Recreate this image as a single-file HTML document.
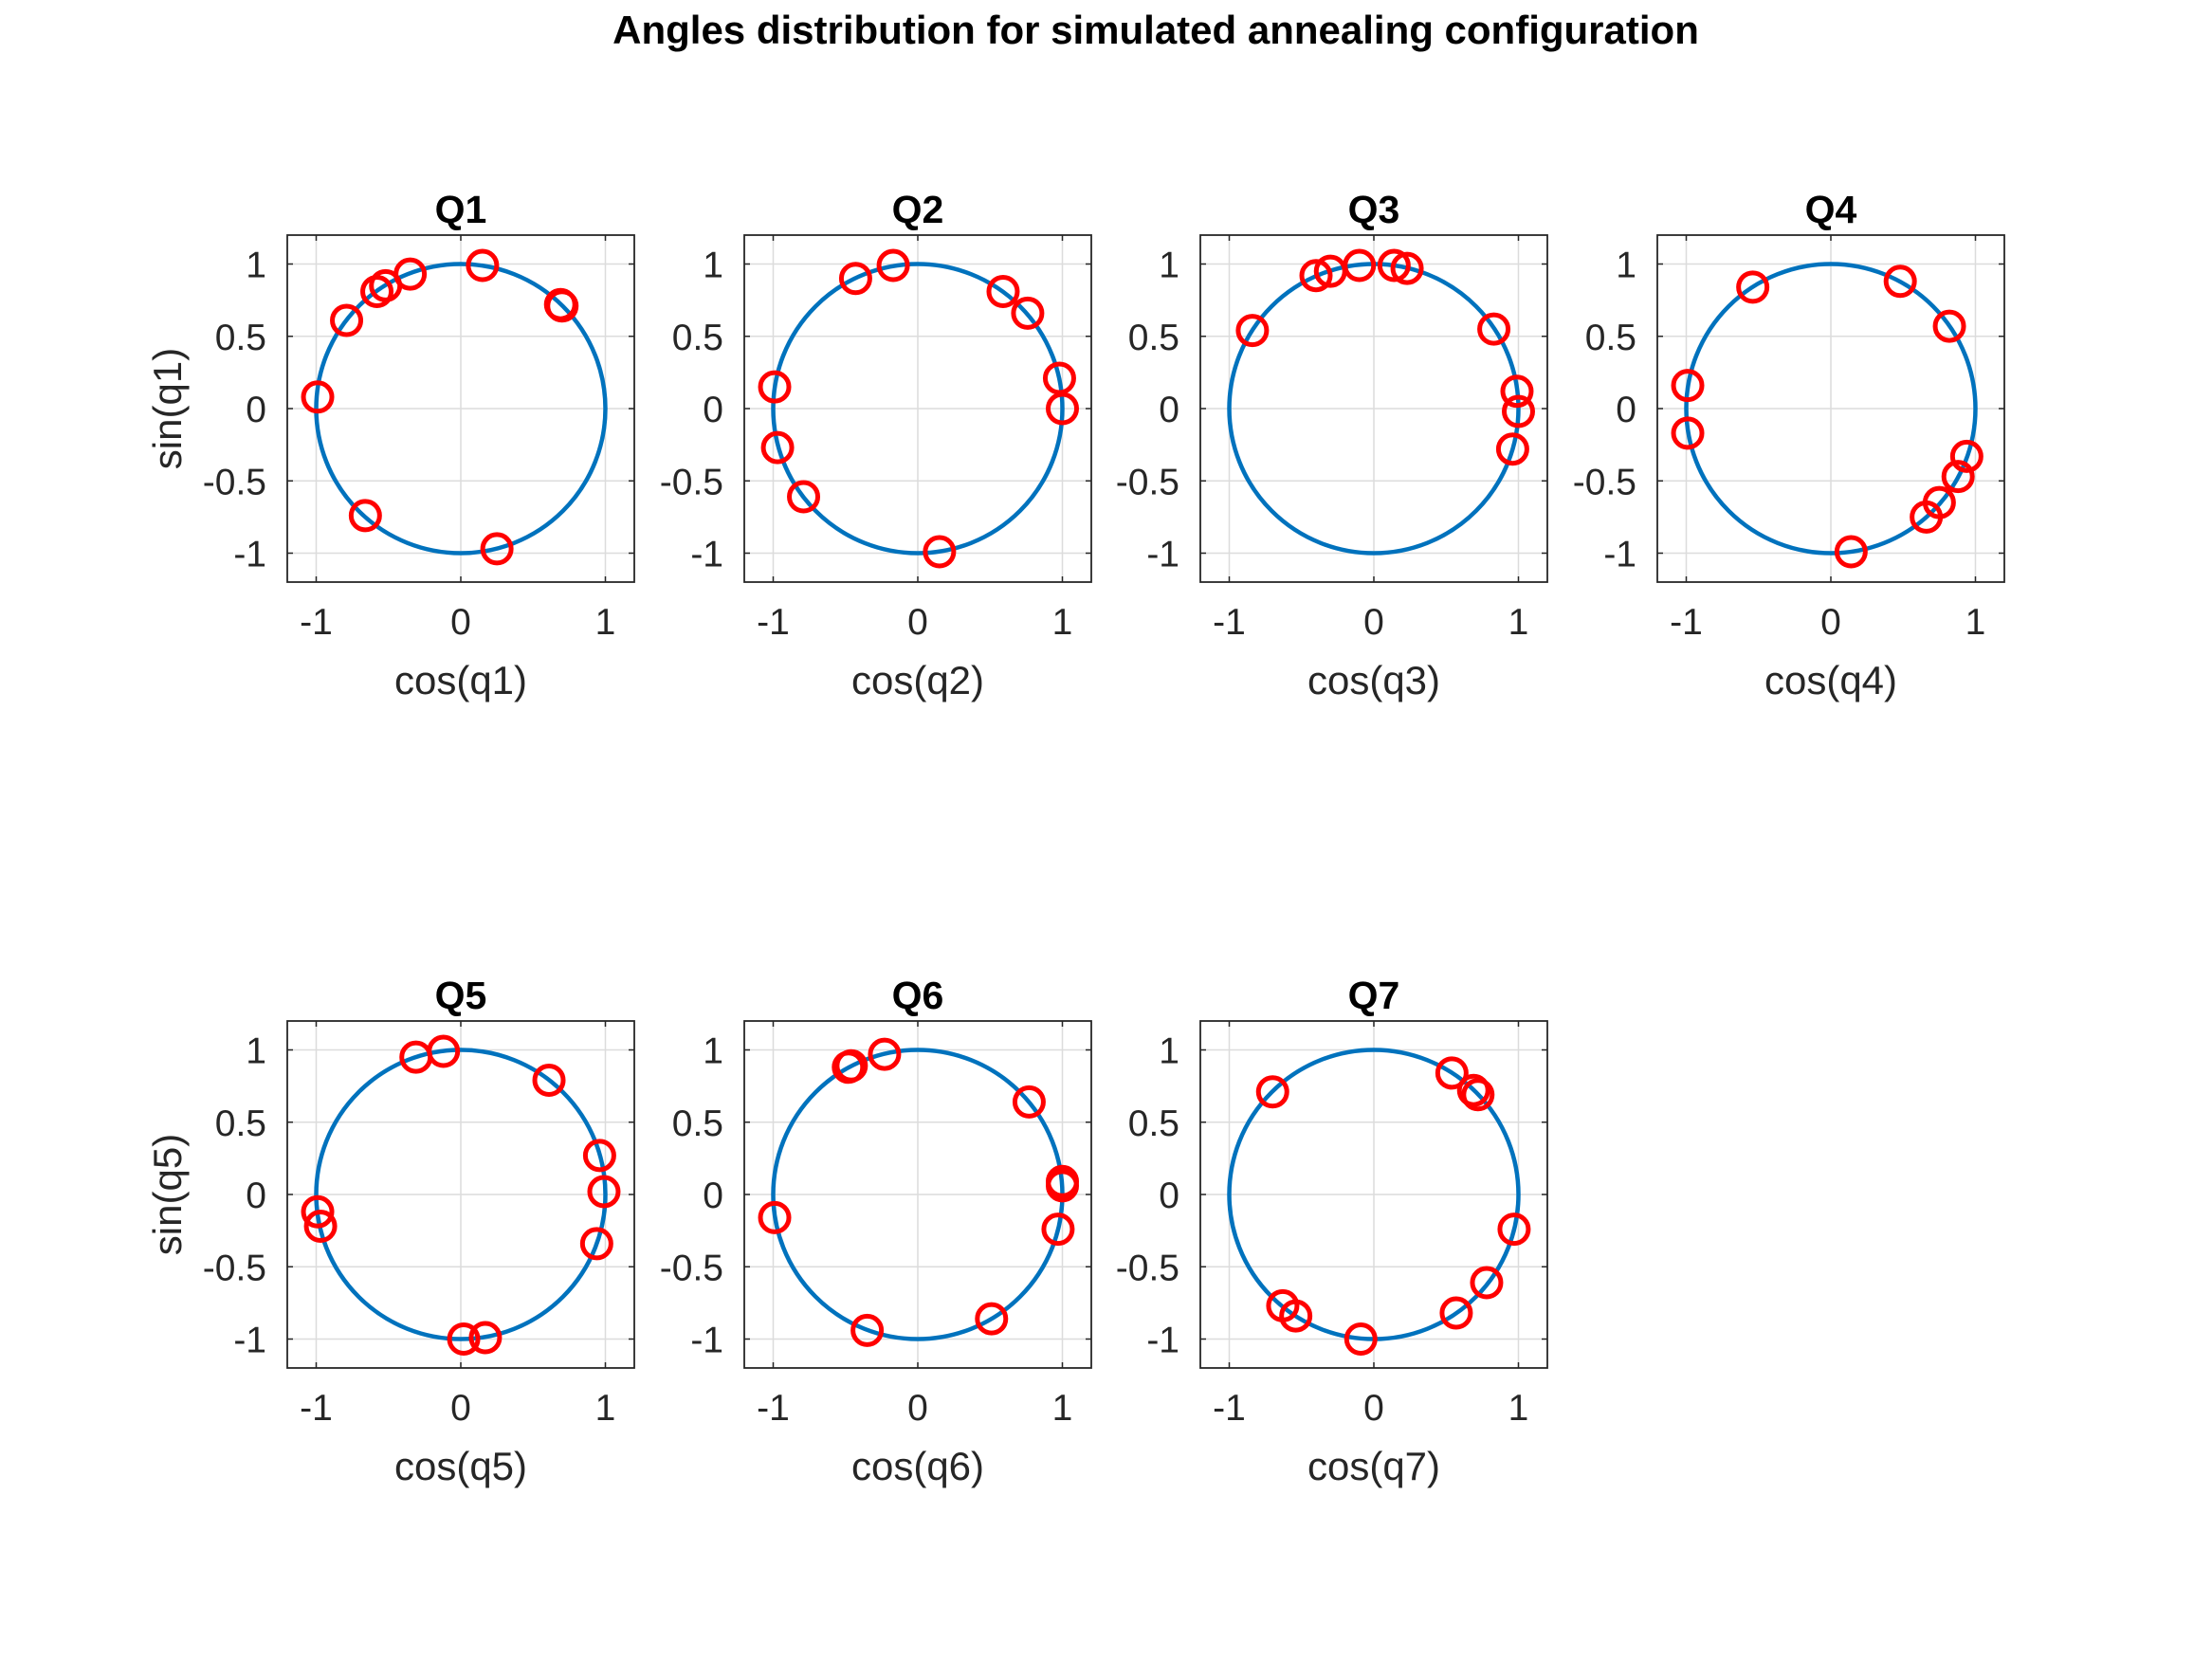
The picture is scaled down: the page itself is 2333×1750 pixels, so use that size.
<!DOCTYPE html>
<html><head><meta charset="utf-8"><style>
html,body{margin:0;padding:0;background:#fff;}
svg{display:block;font-family:"Liberation Sans",Arial,sans-serif;}
</style></head><body>
<svg id="fig" width="2333" height="1750" viewBox="0 0 2333 1750" xmlns="http://www.w3.org/2000/svg">
<rect width="2333" height="1750" fill="#fff"/>
<text x="1219" y="46" font-size="42" font-weight="bold" text-anchor="middle" fill="#000">Angles distribution for simulated annealing configuration</text>
</svg>
<script>
const panelNames = ["Q1","Q2","Q3","Q4","Q5","Q6","Q7"];
const tickValsX = [-1,0,1];
const tickLabelsX = ["-1","0","1"];
const tickValsY = [-1,-0.5,0,0.5,1];
const tickLabelsY = ["-1","-0.5","0","0.5","1"];
const q1Cos = [0.15,0.69,0.70,-0.35,-0.52,-0.58,-0.79,-0.99,-0.66,0.25];
const q1Sin = [0.99,0.72,0.71,0.93,0.85,0.81,0.61,0.08,-0.74,-0.97];
const q2Cos = [-0.17,-0.43,0.59,0.76,0.98,1.0,-0.99,-0.97,-0.79,0.15];
const q2Sin = [0.99,0.90,0.81,0.66,0.21,0.0,0.15,-0.27,-0.61,-0.99];
const q3Cos = [-0.84,-0.40,-0.30,-0.10,0.14,0.23,0.83,0.99,1.0,0.96];
const q3Sin = [0.54,0.92,0.95,0.99,0.99,0.97,0.55,0.12,-0.02,-0.28];
const q4Cos = [-0.54,0.48,0.82,-0.99,-0.99,0.94,0.88,0.75,0.66,0.14];
const q4Sin = [0.84,0.88,0.57,0.16,-0.17,-0.33,-0.47,-0.65,-0.75,-0.99];
const q5Cos = [-0.31,-0.12,0.61,0.96,0.99,0.94,-0.99,-0.97,0.02,0.17];
const q5Sin = [0.95,0.99,0.79,0.27,0.02,-0.34,-0.12,-0.22,-1.0,-0.99];
const q6Cos = [-0.48,-0.46,-0.23,0.77,1.0,1.0,0.97,0.51,-0.35,-0.99];
const q6Sin = [0.88,0.89,0.97,0.64,0.09,0.06,-0.24,-0.86,-0.94,-0.16];
const q7Cos = [-0.70,0.54,0.69,0.72,0.97,0.78,0.57,-0.09,-0.63,-0.54];
const q7Sin = [0.71,0.84,0.72,0.69,-0.24,-0.61,-0.82,-1.0,-0.77,-0.84];
const cosSets = [q1Cos,q2Cos,q3Cos,q4Cos,q5Cos,q6Cos,q7Cos];
const sinSets = [q1Sin,q2Sin,q3Sin,q4Sin,q5Sin,q6Sin,q7Sin];

const NS = "http://www.w3.org/2000/svg";
const svg = document.getElementById('fig');
function mk(tag, attrs, parent){const e=document.createElementNS(NS,tag);for(const k in attrs)e.setAttribute(k,attrs[k]);(parent||svg).appendChild(e);return e;}

const colLeft=[303,785,1266,1748], rowTop=[248,1077], W=366, H=366, LIM=1.2;
panelNames.forEach((name,i)=>{
  const L=colLeft[i%4], T=rowTop[Math.floor(i/4)];
  const sx=v=>L+(v+LIM)/(2*LIM)*W;
  const sy=v=>T+(LIM-v)/(2*LIM)*H;
  const g=mk('g',{});
  
  
  const bg=mk('rect',{x:L,y:T,width:W,height:H,fill:'#fff'},g);
  
  
  tickValsX.forEach((v,k)=>{
    const gl=mk('line',{x1:sx(v),x2:sx(v),y1:T,y2:T+H,stroke:'#dcdcdc','stroke-width':1.5},g);
    
    
    mk('line',{x1:sx(v),x2:sx(v),y1:T+H,y2:T+H-6,stroke:'#262626','stroke-width':1.5},g);
    mk('line',{x1:sx(v),x2:sx(v),y1:T,y2:T+6,stroke:'#262626','stroke-width':1.5},g);
    const t=mk('text',{x:sx(v),y:T+H+55,'font-size':39,'text-anchor':'middle',fill:'#262626'},g);
    t.textContent=tickLabelsX[k];
    
    
  });
  tickValsY.forEach((v,k)=>{
    const gl=mk('line',{x1:L,x2:L+W,y1:sy(v),y2:sy(v),stroke:'#dcdcdc','stroke-width':1.5},g);
    
    
    mk('line',{x1:L,x2:L+6,y1:sy(v),y2:sy(v),stroke:'#262626','stroke-width':1.5},g);
    mk('line',{x1:L+W,x2:L+W-6,y1:sy(v),y2:sy(v),stroke:'#262626','stroke-width':1.5},g);
    const t=mk('text',{x:L-22,y:sy(v)+14,'font-size':39,'text-anchor':'end',fill:'#262626'},g);
    t.textContent=tickLabelsY[k];
    
    
  });
  const c=mk('circle',{cx:sx(0),cy:sy(0),r:sx(1)-sx(0),fill:'none',stroke:'#0072BD','stroke-width':4.5},g);
  
  
  cosSets[i].forEach((cv,k)=>{
    const m=mk('circle',{cx:sx(cv),cy:sy(sinSets[i][k]),r:15,fill:'none',stroke:'#ff0000','stroke-width':5},g);
    
    
  });
  const box=mk('rect',{x:L,y:T,width:W,height:H,fill:'none',stroke:'#262626','stroke-width':1.8},g);
  
  
  const tt=mk('text',{x:L+W/2,y:T-13,'font-size':41,'font-weight':'bold','text-anchor':'middle',fill:'#000'},g);
  tt.textContent=name;
  
  
  const n=i+1;
  const xl=mk('text',{x:L+W/2,y:T+H+118,'font-size':42,'text-anchor':'middle',fill:'#262626'},g);
  xl.textContent='cos(q'+n+')';
  
  
  if(i%4===0){
    const yl=mk('text',{x:0,y:0,'font-size':42,'text-anchor':'middle',fill:'#262626',transform:`translate(${L-112},${T+H/2}) rotate(-90)`},g);
    yl.textContent='sin(q'+n+')';
    
    
  }
});
</script>
</body></html>
